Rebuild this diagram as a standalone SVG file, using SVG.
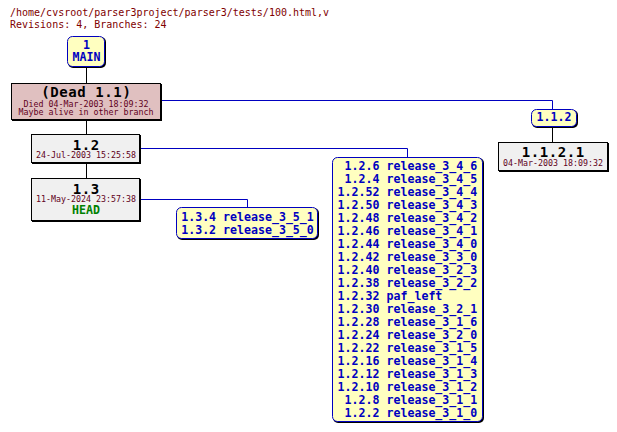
<svg xmlns="http://www.w3.org/2000/svg" width="617" height="432" viewBox="0 0 617 432">
<defs>
<style>
text{font-family:"DejaVu Sans Mono","Liberation Mono",monospace}
.hdr{font-size:10px;fill:#800000}
.big{font-size:14px;font-weight:bold;letter-spacing:0.6px;fill:#000;text-anchor:middle}
.sm{font-size:8.3px;fill:#600020;text-anchor:middle}
.tag{font-size:11.6px;font-weight:bold;fill:#0000c0}
.mid{text-anchor:middle}
.end{text-anchor:end}
.head{font-size:11.6px;font-weight:bold;fill:#008000;text-anchor:middle}
.shadow{fill:#000}
.rev{fill:#f0f0f0;stroke:#000;stroke-width:1}
.dead{fill:#e0c0c0;stroke:#000;stroke-width:1}
.lbl{fill:#ffffc0;stroke:#0000c0;stroke-width:1}
.trunk{stroke:#000;stroke-width:1;fill:none}
.br{stroke:#0000c0;stroke-width:1;fill:none}
</style>
</defs>
<rect width="617" height="432" fill="#fff"/>
<text class="hdr" x="10" y="16">/home/cvsroot/parser3project/parser3/tests/100.html,v</text>
<text class="hdr" x="10" y="28">Revisions: 4, Branches: 24</text>

<g id="connectors">
<path class="trunk" d="M86.5 67V83M86.5 120V134M86.5 163V178M552.5 127V142"/>
<path class="br" d="M161 100.5H552.5V109"/>
<path class="br" d="M140 148.5H407.5V157"/>
<path class="br" d="M140 199.5H247.5V207"/>
</g>

<g id="MAIN">
<rect class="shadow" x="68" y="37" width="38" height="31" rx="5"/>
<rect class="lbl" x="67.5" y="36.5" width="37" height="30" rx="5"/>
<text class="tag mid" x="86.5" y="49">1</text>
<text class="tag mid" x="86.5" y="61">MAIN</text>
</g>

<g id="r1.1">
<rect class="shadow" x="12" y="84" width="150" height="37"/>
<rect class="dead" x="11.5" y="83.5" width="149" height="36"/>
<text class="big" x="86.3" y="97">(Dead 1.1)</text>
<text class="sm" x="86" y="107">Died 04-Mar-2003 18:09:32</text>
<text class="sm" x="86" y="115">Maybe alive in other branch</text>
</g>

<g id="r1.2">
<rect class="shadow" x="32" y="135" width="109" height="29"/>
<rect class="rev" x="31.5" y="134.5" width="108" height="28"/>
<text class="big" x="86.3" y="150">1.2</text>
<text class="sm" x="86" y="158">24-Jul-2003 15:25:58</text>
</g>

<g id="r1.3">
<rect class="shadow" x="32" y="179" width="109" height="43"/>
<rect class="rev" x="31.5" y="178.5" width="108" height="42"/>
<text class="big" x="86.3" y="194">1.3</text>
<text class="sm" x="86" y="202">11-May-2024 23:57:38</text>
<text class="head" x="86" y="214">HEAD</text>
</g>

<g id="b1.1.2">
<rect class="shadow" x="532" y="110" width="46" height="18" rx="5"/>
<rect class="lbl" x="531.5" y="109.5" width="45" height="17" rx="5"/>
<text class="tag mid" x="554" y="121">1.1.2</text>
</g>

<g id="r1.1.2.1">
<rect class="shadow" x="499" y="143" width="110" height="29"/>
<rect class="rev" x="498.5" y="142.5" width="109" height="28"/>
<text class="big" x="553.3" y="157">1.1.2.1</text>
<text class="sm" x="553" y="166">04-Mar-2003 18:09:32</text>
</g>

<g id="b1.3">
<rect class="shadow" x="177" y="208" width="142" height="32" rx="5"/>
<rect class="lbl" x="176.5" y="207.5" width="141" height="31" rx="5"/>
<text class="tag mid" x="247.5" y="221">1.3.4 release_3_5_1</text>
<text class="tag mid" x="247.5" y="234">1.3.2 release_3_5_0</text>
</g>

<g id="b1.2">
<rect class="shadow" x="333" y="158" width="151" height="265" rx="5"/>
<rect class="lbl" x="332.5" y="157.5" width="150" height="264" rx="5"/>
<g class="tag">
<text class="end" x="379.5" y="170">1.2.6</text><text x="386.5" y="170">release_3_4_6</text>
<text class="end" x="379.5" y="183">1.2.4</text><text x="386.5" y="183">release_3_4_5</text>
<text class="end" x="379.5" y="196">1.2.52</text><text x="386.5" y="196">release_3_4_4</text>
<text class="end" x="379.5" y="209">1.2.50</text><text x="386.5" y="209">release_3_4_3</text>
<text class="end" x="379.5" y="222">1.2.48</text><text x="386.5" y="222">release_3_4_2</text>
<text class="end" x="379.5" y="235">1.2.46</text><text x="386.5" y="235">release_3_4_1</text>
<text class="end" x="379.5" y="248">1.2.44</text><text x="386.5" y="248">release_3_4_0</text>
<text class="end" x="379.5" y="261">1.2.42</text><text x="386.5" y="261">release_3_3_0</text>
<text class="end" x="379.5" y="274">1.2.40</text><text x="386.5" y="274">release_3_2_3</text>
<text class="end" x="379.5" y="287">1.2.38</text><text x="386.5" y="287">release_3_2_2</text>
<text class="end" x="379.5" y="300">1.2.32</text><text x="386.5" y="300">paf_left</text>
<text class="end" x="379.5" y="313">1.2.30</text><text x="386.5" y="313">release_3_2_1</text>
<text class="end" x="379.5" y="326">1.2.28</text><text x="386.5" y="326">release_3_1_6</text>
<text class="end" x="379.5" y="339">1.2.24</text><text x="386.5" y="339">release_3_2_0</text>
<text class="end" x="379.5" y="352">1.2.22</text><text x="386.5" y="352">release_3_1_5</text>
<text class="end" x="379.5" y="365">1.2.16</text><text x="386.5" y="365">release_3_1_4</text>
<text class="end" x="379.5" y="378">1.2.12</text><text x="386.5" y="378">release_3_1_3</text>
<text class="end" x="379.5" y="391">1.2.10</text><text x="386.5" y="391">release_3_1_2</text>
<text class="end" x="379.5" y="404">1.2.8</text><text x="386.5" y="404">release_3_1_1</text>
<text class="end" x="379.5" y="417">1.2.2</text><text x="386.5" y="417">release_3_1_0</text>
</g>
</g>
</svg>
